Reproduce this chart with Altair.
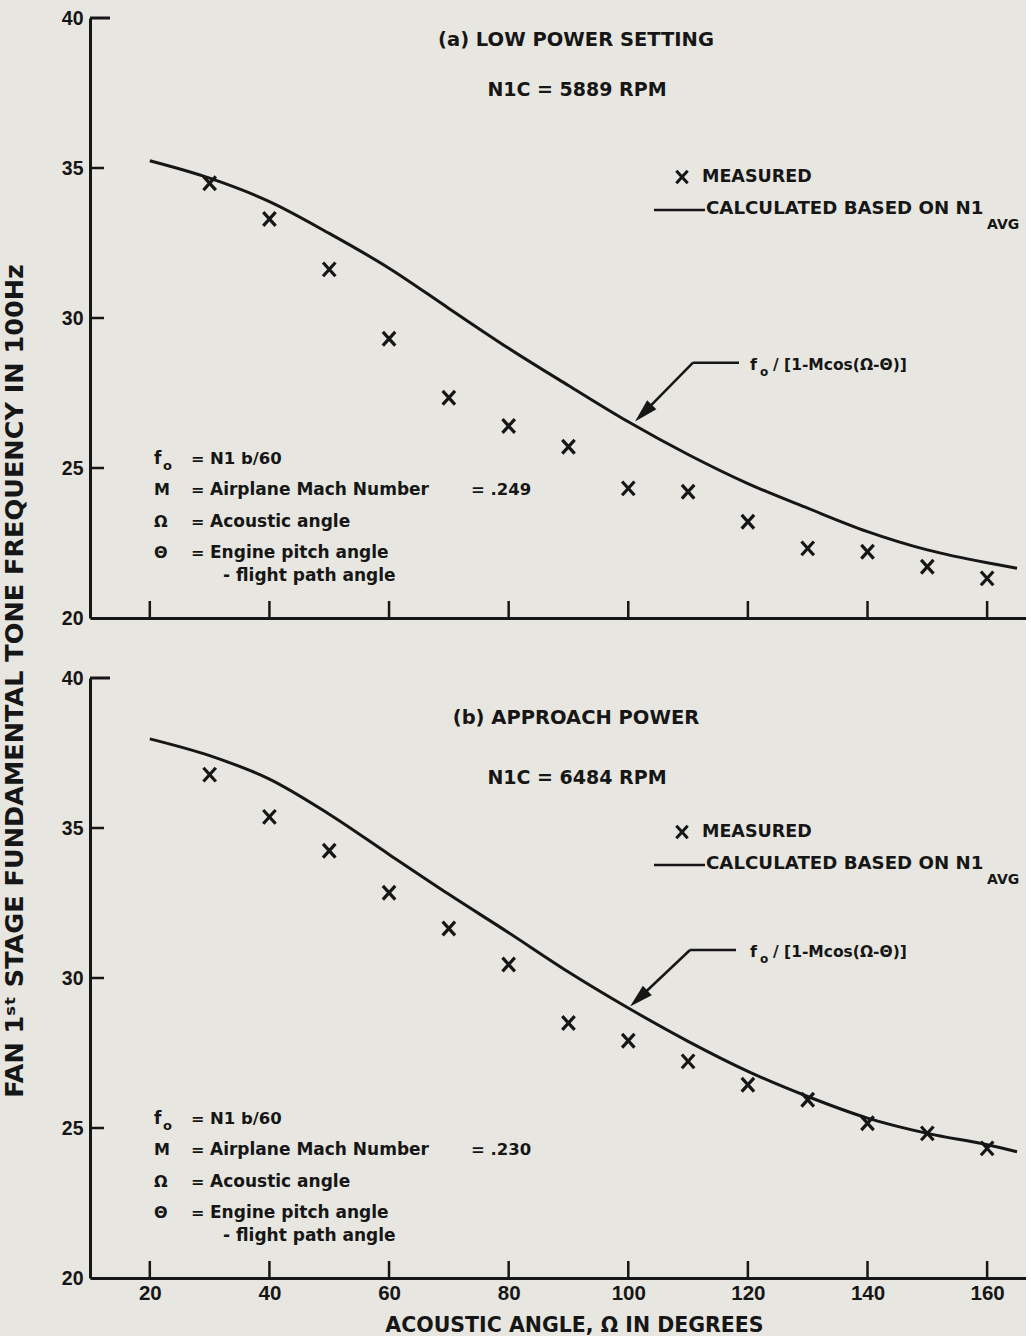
import altair as alt
import pandas as pd

# Measured fan tones (hundreds of Hz) at each acoustic angle
angles = [30, 40, 50, 60, 70, 80, 90, 100, 110, 120, 130, 140, 150, 160]
measured_low = [34.49, 33.30, 31.62, 29.31, 27.34, 26.40, 25.71, 24.32, 24.21, 23.21, 22.32, 22.21, 21.71, 21.32]
measured_approach = [36.78, 35.37, 34.24, 32.84, 31.65, 30.45, 28.50, 27.91, 27.22, 26.44, 25.94, 25.16, 24.82, 24.32]

# Calculated Doppler-shifted tone, f0 / [1 - M cos(Omega - Theta)]
curve_angles = [20, 30, 40, 50, 60, 70, 80, 90, 100, 110, 120, 130, 140, 150, 160, 165]
calc_low = [35.24, 34.66, 33.88, 32.82, 31.66, 30.32, 28.99, 27.75, 26.54, 25.45, 24.48, 23.66, 22.88, 22.27, 21.84, 21.66]
calc_approach = [37.97, 37.41, 36.63, 35.46, 34.12, 32.79, 31.51, 30.20, 29.00, 27.89, 26.89, 26.05, 25.33, 24.82, 24.44, 24.21]

x_ticks = [20, 40, 60, 80, 100, 120, 140, 160]
y_ticks = [20, 25, 30, 35, 40]
inner_y_ticks = [25, 30, 35]

INK = "#161616"
PAPER = "#e7e6e0"
FONT = "DejaVu Sans"
NUM_FONT = "Liberation Sans"
W, H = 936, 600
X_SHAPE = "M-0.9,-1L0.9,1M0.9,-1L-0.9,1"
ARROW_SHAPE = "M0,-1L0.55,1L-0.55,1Z"

x_scale = alt.Scale(domain=[10, 166.5], nice=False, zero=False)
y_scale = alt.Scale(domain=[20, 40], nice=False, zero=False)


def one_row():
    return pd.DataFrame({"k": [0]})


def label(text, x, y, size=16, align="left", font=FONT, angle=0):
    return alt.Chart(one_row()).mark_text(
        font=font, fontSize=size, fontWeight="bold", color=INK,
        align=align, baseline="middle", angle=angle,
    ).encode(x=alt.value(x), y=alt.value(y), text=alt.value(text))


def segment(x1, y1, x2, y2, width=2.5):
    return alt.Chart(one_row()).mark_rule(color=INK, strokeWidth=width).encode(
        x=alt.value(x1), y=alt.value(y1), x2=alt.value(x2), y2=alt.value(y2)
    )


def marker(x, y, shape, size, angle=0, filled=False):
    if filled:
        mk = alt.Chart(one_row()).mark_point(shape=shape, size=size, angle=angle, filled=True,
                                             color=INK, opacity=1)
    else:
        mk = alt.Chart(one_row()).mark_point(shape=shape, size=size, angle=angle, filled=False,
                                             color=INK, strokeWidth=3, opacity=1)
    return mk.encode(x=alt.value(x), y=alt.value(y))


def panel(measured, calc, heading, heading_y, rpm, rpm_y, mach, legend_y, arrow, bottom):
    meas_df = pd.DataFrame({"angle": angles, "freq": measured})
    calc_df = pd.DataFrame({"angle": curve_angles, "freq": calc})

    if bottom:
        x_axis = alt.Axis(values=x_ticks, ticks=False, grid=False, labels=True,
                          labelFont=NUM_FONT, labelFontSize=20.5, labelPadding=5,
                          title="ACOUSTIC ANGLE,  Ω IN DEGREES", titleFont=FONT,
                          titleFontSize=20.5, titlePadding=12, titleX=484)
    else:
        x_axis = alt.Axis(values=x_ticks, ticks=False, grid=False, labels=False, title=None)
    y_axis = alt.Axis(values=y_ticks, ticks=False, grid=False, labelFont=NUM_FONT,
                      labelFontSize=19.5, labelPadding=7, title=None)

    curve = alt.Chart(calc_df).mark_line(color=INK, strokeWidth=3, interpolate="monotone").encode(
        x=alt.X("angle:Q", scale=x_scale, axis=x_axis),
        y=alt.Y("freq:Q", scale=y_scale, axis=y_axis),
    )
    points = alt.Chart(meas_df).mark_point(shape=X_SHAPE, size=190, filled=False, color=INK,
                                           strokeWidth=3.2, opacity=1).encode(
        x=alt.X("angle:Q", scale=x_scale),
        y=alt.Y("freq:Q", scale=y_scale),
    )
    xt = alt.Chart(pd.DataFrame({"t": x_ticks})).mark_rule(color=INK, strokeWidth=2.5).encode(
        x=alt.X("t:Q", scale=x_scale), y=alt.value(H - 17), y2=alt.value(H)
    )
    yt = alt.Chart(pd.DataFrame({"t": inner_y_ticks})).mark_rule(color=INK, strokeWidth=2.5).encode(
        y=alt.Y("t:Q", scale=y_scale), x=alt.value(0), x2=alt.value(14)
    )
    top_tick = alt.Chart(pd.DataFrame({"t": [40]})).mark_rule(color=INK, strokeWidth=3).encode(
        y=alt.Y("t:Q", scale=y_scale), x=alt.value(0), x2=alt.value(20)
    )

    layers = [curve, points, xt, yt, top_tick]

    # panel heading
    layers += [label(heading, 486, heading_y, size=19.5, align="center"),
               label(rpm, 487, rpm_y, size=19, align="center")]

    # legend
    ly = legend_y
    layers += [marker(592, ly, X_SHAPE, 160),
               label("MEASURED", 612, ly, size=17.5),
               segment(564, ly + 33, 615, ly + 33),
               label("CALCULATED BASED ON N1", 616, ly + 32, size=18.2),
               label("AVG", 897, ly + 48, size=14)]

    # arrow pointing at the calculated curve
    ex, ey, cx, cy, ang = arrow
    layers += [segment(ex, ey, ex + 46, ey),
               segment(ex, ey, cx, cy),
               marker(cx, cy, ARROW_SHAPE, 560, angle=ang, filled=True),
               label("f", 660, ey + 2, size=16),
               label("o", 670, ey + 9, size=12),
               label("/ [1-Mcos(Ω-Θ)]", 683, ey + 2, size=15.5)]

    # symbol definitions
    rows = [441, 472, 504, 535, 558]
    layers += [label("f", 64, rows[0], size=17),
               label("o", 73, rows[0] + 7, size=13),
               label("=", 101, rows[0], size=16),
               label("N1 b/60", 120, rows[0], size=16.5),
               label("M", 64, rows[1], size=16),
               label("=", 101, rows[1], size=16),
               label("Airplane Mach Number", 120, rows[1], size=17),
               label("= " + mach, 381, rows[1], size=16.5),
               label("Ω", 64, rows[2], size=16),
               label("=", 101, rows[2], size=16),
               label("Acoustic angle", 120, rows[2], size=17),
               label("Θ", 64, rows[3], size=16),
               label("=", 101, rows[3], size=16),
               label("Engine pitch angle", 120, rows[3], size=17),
               label("- flight path angle", 133, rows[4], size=17)]

    if not bottom:
        layers.append(label("FAN 1ˢᵗ STAGE FUNDAMENTAL TONE FREQUENCY IN 100Hz", -75, 663,
                            size=25.5, align="center", angle=270))

    return alt.layer(*layers).properties(width=W, height=H)


top = panel(measured_low, calc_low, "(a) LOW POWER SETTING", 22, "N1C = 5889 RPM", 72, ".249",
            159, (603, 344.7, 553.4, 395.1, 225), bottom=False)
bottom = panel(measured_approach, calc_approach, "(b) APPROACH POWER", 40, "N1C = 6484 RPM", 100, ".230",
               154, (600, 272, 548.7, 320.5, 227), bottom=True)

chart = alt.vconcat(top, bottom, spacing=60, bounds="flush").properties(
    padding={"left": 2, "top": 8, "right": 0, "bottom": 0},
    background=PAPER,
).configure_view(stroke=None).configure_axis(
    domainColor=INK, domainWidth=3, labelColor=INK, titleColor=INK,
    labelFontWeight="bold", titleFontWeight="bold",
)

chart.save("out.html", embed_options={"renderer": "svg", "actions": False})
